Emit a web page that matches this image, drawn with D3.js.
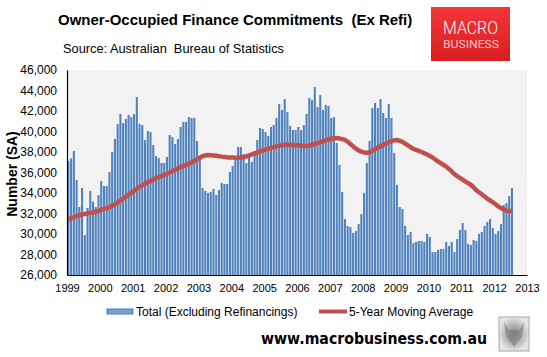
<!DOCTYPE html>
<html><head><meta charset="utf-8">
<script src="https://cdn.jsdelivr.net/npm/d3@7"></script>
<style>
html,body{margin:0;padding:0;background:#fff;}
svg{display:block;font-family:"Liberation Sans",Arial,sans-serif;}
</style>
</head><body>
<svg id="c" width="547" height="357"></svg>
<script>
const years = [1999,2000,2001,2002,2003,2004,2005,2006,2007,2008,2009,2010,2011,2012,2013];
const yTicks = [26000,28000,30000,32000,34000,36000,38000,40000,42000,44000,46000];
const seriesNames = ["Total (Excluding Refinancings)", "5-Year Moving Average"];

// Monthly owner-occupied finance commitments (ex refi), Jan 1999 - Jul 2012
const total = [
37120,37380,38100,35270,32630,34490,29900,32540,34200,33160,32630,33800,
35170,34680,34680,36050,38000,39270,40730,41710,40830,41220,41610,41410,
41710,43370,40730,40630,39170,40050,39950,38680,37610,37420,36930,36930,
37510,39660,39460,38780,39270,40440,40930,40930,41410,41320,41320,39070,
37380,34490,34200,34000,34100,34390,33800,34290,34980,34880,34880,36050,
36630,37320,38490,38490,37800,36930,37510,37030,38100,39170,40340,40240,
39950,39560,40440,40630,41320,42680,42100,43170,41900,40540,40150,40150,
40440,40150,40630,41710,43270,43070,44340,42390,43560,42100,42590,42490,
41320,41410,38880,36730,34100,31460,30780,30680,30100,30290,30980,31950,
34000,36930,39070,42290,42780,42290,43170,41800,41320,42680,41320,37900,
34780,32630,32440,30780,29900,30200,29120,29220,29320,29320,29220,30000,
29710,28240,28240,28440,28540,28540,29220,28830,29220,28240,29510,30390,
31070,30390,29020,28930,29420,29320,30000,30200,30780,31170,31460,30590,
30000,30290,30980,32830,33020,33710,34490];

// 5-year moving average
const movingAvg = [
31430,31530,31630,31740,31830,31900,31960,32020,32060,32100,32170,32260,
32350,32440,32530,32620,32750,32900,33060,33250,33450,33640,33830,34020,
34210,34420,34580,34740,34900,35040,35180,35310,35450,35560,35660,35770,
35880,36000,36140,36270,36410,36520,36630,36740,36850,36960,37150,37300,
37450,37590,37680,37710,37690,37660,37630,37590,37550,37520,37490,37470,
37460,37450,37450,37460,37480,37580,37680,37770,37860,37960,38050,38150,
38240,38320,38400,38480,38560,38620,38680,38700,38700,38690,38680,38670,
38650,38620,38600,38590,38620,38700,38780,38860,38940,39040,39140,39230,
39310,39350,39360,39330,39260,39180,39000,38780,38550,38320,38150,38030,
37960,37930,37980,38100,38280,38430,38570,38700,38830,38950,39060,39140,
39170,39100,38990,38820,38640,38470,38320,38200,38100,38000,37880,37750,
37610,37460,37270,37080,36920,36750,36560,36350,36100,35850,35650,35480,
35300,35120,34960,34800,34540,34270,34070,33880,33660,33450,33270,33100,
32900,32700,32540,32400,32280,32250,32240];

const monthNames = ["Jan","Feb","Mar","Apr","May","Jun","Jul","Aug","Sep","Oct","Nov","Dec"];
const months = [];
years.slice(0, -1).forEach(yr => monthNames.forEach(m => months.push(m + "-" + yr)));

const svg = d3.select("#c");
const L = 67, R = 527, T = 70, B = 275;

const x = d3.scaleBand().domain(months).range([L, R]).paddingInner(0.25).paddingOuter(0.125);
const xYear = d3.scaleLinear().domain([years[0], years[years.length - 1]]).range([L, R]);
const y = d3.scaleLinear().domain([yTicks[0], yTicks[yTicks.length - 1]]).range([B, T]);

// plot background
svg.append("rect").attr("x", L).attr("y", T).attr("width", R - L).attr("height", B - T).attr("fill", "#f2f2f2");

// bars
svg.append("g").selectAll("rect").data(total).join("rect")
  .attr("x", (d, i) => x(months[i]))
  .attr("y", d => y(d))
  .attr("width", x.bandwidth())
  .attr("height", d => B - y(d))
  .attr("fill", "#4f81bd");

// moving average line
const line = d3.line()
  .x((d, i) => x(months[i]) + x.bandwidth() / 2)
  .y(d => y(d));
svg.append("path").datum(movingAvg)
  .attr("d", line)
  .attr("fill", "none")
  .attr("stroke", "#c0504d")
  .attr("stroke-width", 4.5)
  .attr("stroke-linejoin", "round");

// axes
const yAxis = svg.append("g").attr("transform", `translate(${L},0)`)
  .call(d3.axisLeft(y).tickValues(yTicks).tickSize(0).tickSizeOuter(0).tickPadding(10).tickFormat(d3.format(",")));
yAxis.selectAll("text").attr("font-size", 12).attr("fill", "#000").attr("font-family", "Liberation Sans, Arial, sans-serif");
yAxis.select(".domain").attr("stroke", "#000").attr("stroke-width", 1.2);

const xAxis = svg.append("g").attr("transform", `translate(0,${B})`)
  .call(d3.axisBottom(xYear).tickValues(years).tickSize(0).tickSizeOuter(0).tickPadding(9).tickFormat(d3.format("d")));
xAxis.selectAll("text").attr("font-size", 11).attr("fill", "#000").attr("font-family", "Liberation Sans, Arial, sans-serif");
xAxis.select(".domain").attr("stroke", "#000").attr("stroke-width", 1.2);

// y axis title
svg.append("text")
  .attr("transform", "translate(16.5,174) rotate(-90)")
  .attr("text-anchor", "middle")
  .attr("font-size", 14).attr("font-weight", "bold").attr("fill", "#000")
  .text("Number (SA)");

// title
svg.append("text")
  .attr("x", 58).attr("y", 25)
  .attr("font-size", 15).attr("font-weight", "bold").attr("fill", "#000")
  .style("white-space", "pre")
  .text("Owner-Occupied Finance Commitments  (Ex Refi)");

// source
svg.append("text")
  .attr("x", 63).attr("y", 53)
  .attr("font-size", 13.5).attr("fill", "#000")
  .attr("textLength", 221).attr("lengthAdjust", "spacingAndGlyphs")
  .style("white-space", "pre")
  .text("Source: Australian  Bureau of Statistics");

// logo
const defs = svg.append("defs");
const g1 = defs.append("linearGradient").attr("id", "logoGrad").attr("x1", 0).attr("y1", 0).attr("x2", 0).attr("y2", 1);
g1.append("stop").attr("offset", "0%").attr("stop-color", "#f2363a");
g1.append("stop").attr("offset", "100%").attr("stop-color", "#d81c20");
svg.append("rect").attr("x", 431).attr("y", 7).attr("width", 79).attr("height", 54).attr("fill", "url(#logoGrad)");
svg.append("text").attr("x", 470.5).attr("y", 33.5).attr("text-anchor", "middle")
  .attr("font-family", "Roboto, Liberation Sans, sans-serif").attr("font-weight", 300)
  .attr("font-size", 18).attr("fill", "#fff")
  .attr("textLength", 55).attr("lengthAdjust", "spacingAndGlyphs").text("MACRO");
svg.append("text").attr("x", 471).attr("y", 47.5).attr("text-anchor", "middle")
  .attr("font-family", "Roboto, Liberation Sans, sans-serif")
  .attr("font-size", 10.5).attr("fill", "#f8caca")
  .attr("textLength", 56).attr("lengthAdjust", "spacingAndGlyphs").text("BUSINESS");

// legend
svg.append("rect").attr("x", 107).attr("y", 309).attr("width", 26).attr("height", 5)
  .attr("fill", "#7ba0d4").attr("stroke", "#4a7ab8").attr("stroke-width", 1);
svg.append("text").attr("x", 136).attr("y", 316).attr("font-size", 12).attr("fill", "#000").text(seriesNames[0]);
svg.append("line").attr("x1", 319).attr("x2", 347).attr("y1", 311.5).attr("y2", 311.5)
  .attr("stroke", "#c0504d").attr("stroke-width", 4);
svg.append("text").attr("x", 349).attr("y", 316).attr("font-size", 12).attr("fill", "#000").text(seriesNames[1]);

// website
svg.append("text").attr("x", 261).attr("y", 344)
  .attr("font-family", "DejaVu Sans, Verdana, sans-serif").attr("font-weight", "bold")
  .attr("font-size", 16).attr("fill", "#000")
  .attr("textLength", 226).attr("lengthAdjust", "spacingAndGlyphs")
  .text("www.macrobusiness.com.au");

// wolf thumbnail
const g2 = defs.append("radialGradient").attr("id", "wolfGrad");
g2.append("stop").attr("offset", "0%").attr("stop-color", "#8a8a8a");
g2.append("stop").attr("offset", "60%").attr("stop-color", "#b8b8b8");
g2.append("stop").attr("offset", "100%").attr("stop-color", "#e4e4e4");
svg.append("rect").attr("x", 499).attr("y", 317).attr("width", 30).attr("height", 34)
  .attr("fill", "url(#wolfGrad)").attr("stroke", "#a8a8a8").attr("stroke-width", 1);
svg.append("path").attr("d", "M504,322 L509,330 L519,330 L524,322 L522,336 L514,347 L506,336 Z")
  .attr("fill", "#6f6f6f").attr("opacity", 0.45);
</script>
</body></html>
